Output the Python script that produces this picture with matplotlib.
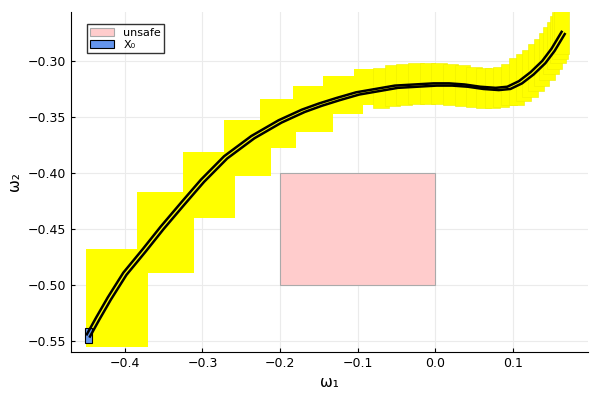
import numpy as np
import matplotlib.pyplot as plt
import matplotlib.patches as patches

# big reach boxes (x0, x1, y0, y1)
big_x0 = [-0.450, -0.3845, -0.325, -0.272, -0.226, -0.183, -0.144, -0.105]
big_x1 = [-0.370, -0.311, -0.258, -0.212, -0.180, -0.132, -0.093, -0.060]
big_y0 = [-0.555, -0.489, -0.440, -0.403, -0.378, -0.363, -0.347, -0.339]
big_y1 = [-0.468, -0.417, -0.381, -0.353, -0.334, -0.322, -0.313, -0.307]

# small boxes along the end of the trajectory (centres)
small_x = [-0.07, -0.055, -0.04, -0.025, -0.01, 0.005, 0.02, 0.035, 0.05, 0.062,
           0.074, 0.085, 0.095, 0.105, 0.114, 0.122, 0.13, 0.137, 0.144, 0.149,
           0.154, 0.158, 0.161, 0.163]
small_y = [-0.324, -0.322, -0.321, -0.320, -0.320, -0.320, -0.321, -0.322, -0.323, -0.324,
           -0.324, -0.323, -0.321, -0.318, -0.315, -0.311, -0.306, -0.301, -0.296, -0.291,
           -0.286, -0.281, -0.277, -0.273]

# trajectory
traj_x = [-0.447, -0.435, -0.42, -0.40, -0.375, -0.352, -0.325, -0.30, -0.27, -0.235,
          -0.20, -0.17, -0.148, -0.125, -0.10, -0.075, -0.05, -0.025, 0.0, 0.02, 0.04,
          0.06, 0.08, 0.095, 0.11, 0.125, 0.14, 0.152, 0.165]
traj_y = [-0.545, -0.530, -0.512, -0.490, -0.469, -0.449, -0.427, -0.407, -0.386, -0.368,
          -0.354, -0.3445, -0.339, -0.334, -0.329, -0.326, -0.323, -0.322, -0.321, -0.321,
          -0.322, -0.324, -0.325, -0.324, -0.319, -0.311, -0.301, -0.290, -0.275]

fig = plt.figure(figsize=(6, 4), dpi=100)
ax = fig.add_axes([0.118, 0.12, 0.862, 0.85])

yel = '#ffff00'
for a, b, c, d in zip(big_x0, big_x1, big_y0, big_y1):
    ax.add_patch(patches.Rectangle((a, c), b - a, d - c, facecolor=yel, edgecolor='none', zorder=2))
for cx, cy in zip(small_x, small_y):
    hh = 0.018 if cx < 0.1 else 0.021
    ax.add_patch(patches.Rectangle((cx - 0.01, cy - hh), 0.02, 2 * hh, facecolor=yel,
                                   edgecolor='#eeee00', linewidth=0.4, zorder=2))

ax.add_patch(patches.Rectangle((-0.2, -0.5), 0.2, 0.1, facecolor='#ffcccc',
                               edgecolor='#aaaaaa', linewidth=0.8, zorder=3, label='unsafe'))
ax.add_patch(patches.Rectangle((-0.452, -0.552), 0.009, 0.014, facecolor='#6495ed',
                               edgecolor='black', linewidth=0.8, zorder=4, label='X\u2080'))

tx = np.array(traj_x)
ty = np.array(traj_y)
ax.plot(tx - 0.002, ty + 0.001, color='black', linewidth=1.8, zorder=5)
ax.plot(tx + 0.002, ty - 0.001, color='black', linewidth=1.8, zorder=5)

ax.set_xlim(-0.4697, 0.197)
ax.set_ylim(-0.5598, -0.2563)
ax.set_xticks([-0.4, -0.3, -0.2, -0.1, 0.0, 0.1])
ax.set_yticks([-0.55, -0.50, -0.45, -0.40, -0.35, -0.30])
ax.set_xticklabels(['\u22120.4', '\u22120.3', '\u22120.2', '\u22120.1', '0.0', '0.1'])
ax.set_yticklabels(['\u22120.55', '\u22120.50', '\u22120.45', '\u22120.40', '\u22120.35', '\u22120.30'])
ax.grid(True, color='#ebebeb', linewidth=0.8, zorder=0)
ax.set_axisbelow(True)
for s in ['top', 'right']:
    ax.spines[s].set_visible(False)
ax.tick_params(direction='in', labelsize=9, length=3)
ax.set_xlabel('\u03c9\u2081', fontsize=11)
ax.set_ylabel('\u03c9\u2082', fontsize=11)
ax.legend(loc='upper left', bbox_to_anchor=(0.02, 0.98), fontsize=8, fancybox=False,
          edgecolor='black', handlelength=2.2, borderpad=0.3, labelspacing=0.2)

fig.savefig('out.png', dpi=100)
